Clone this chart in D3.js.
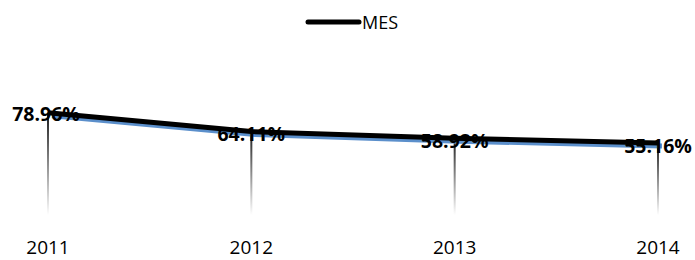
<!DOCTYPE html>
<html lang="en">
<head>
    <meta charset="utf-8">
    <title>MES</title>
    <script src="https://d3js.org/d3.v7.min.js"></script>
    <style>
        body { margin: 0; background: #fff; }
        svg { display: block; font-family: "Open Sans", sans-serif; }
    </style>
</head>
<body>
<div id="chart"></div>
<script>
    // data
    const years = ["2011", "2012", "2013", "2014"];
    const mes = [78.96, 64.11, 58.92, 55.16];
    const seriesName = "MES";

    const width = 695, height = 260;
    const margin = {top: 86, right: 37, bottom: 47, left: 48};

    const svg = d3.select("#chart").append("svg")
        .attr("width", width)
        .attr("height", height);

    const x = d3.scalePoint()
        .domain(years)
        .range([margin.left, width - margin.right]);

    const y = d3.scaleLinear()
        .domain([0, 100])
        .range([height - margin.bottom, margin.top]);

    // fading drop line
    const defs = svg.append("defs");
    const grad = defs.append("linearGradient")
        .attr("id", "drop")
        .attr("x1", 0).attr("y1", 0).attr("x2", 0).attr("y2", 1);
    grad.append("stop").attr("offset", "0%").attr("stop-color", "#1a1a1a");
    grad.append("stop").attr("offset", "100%").attr("stop-color", "#ffffff");

    svg.append("g")
        .selectAll("rect")
        .data(mes)
        .join("rect")
        .attr("x", (d, i) => x(years[i]) - 1)
        .attr("y", d => y(d))
        .attr("width", 2)
        .attr("height", d => y(0) + 2 - y(d))
        .attr("fill", "url(#drop)");

    const line = d3.line()
        .x((d, i) => x(years[i]))
        .y(d => y(d));

    // blue shadow line
    svg.append("path")
        .datum(mes)
        .attr("transform", "translate(4,3)")
        .attr("fill", "none")
        .attr("stroke", "#5b8fcb")
        .attr("stroke-width", 5)
        .attr("stroke-linejoin", "round")
        .attr("d", line);

    svg.append("path")
        .datum(mes)
        .attr("fill", "none")
        .attr("stroke", "#000")
        .attr("stroke-width", 5)
        .attr("stroke-linejoin", "round")
        .attr("d", line);

    // value labels
    svg.append("g")
        .selectAll("text")
        .data(mes)
        .join("text")
        .attr("x", (d, i) => x(years[i]) + (i === 0 ? -2 : 0))
        .attr("y", (d, i) => y(d) + 1 + i * 0.6)
        .attr("text-anchor", "middle")
        .attr("dominant-baseline", "central")
        .attr("font-size", 19.5)
        .attr("font-weight", "bold")
        .attr("fill", "#000")
        .text(d => d.toFixed(2) + "%");

    // category labels
    svg.append("g")
        .selectAll("text")
        .data(years)
        .join("text")
        .attr("x", d => x(d))
        .attr("y", 254)
        .attr("text-anchor", "middle")
        .attr("font-size", 19)
        .attr("fill", "#000")
        .text(d => d);

    // legend
    const legend = svg.append("g");
    legend.append("line")
        .attr("x1", 308).attr("x2", 359)
        .attr("y1", 22).attr("y2", 22)
        .attr("stroke", "#000")
        .attr("stroke-width", 5)
        .attr("stroke-linecap", "round");
    legend.append("text")
        .attr("x", 362)
        .attr("y", 29)
        .attr("font-size", 18)
        .attr("fill", "#000")
        .text(seriesName);
</script>
</body>
</html>
